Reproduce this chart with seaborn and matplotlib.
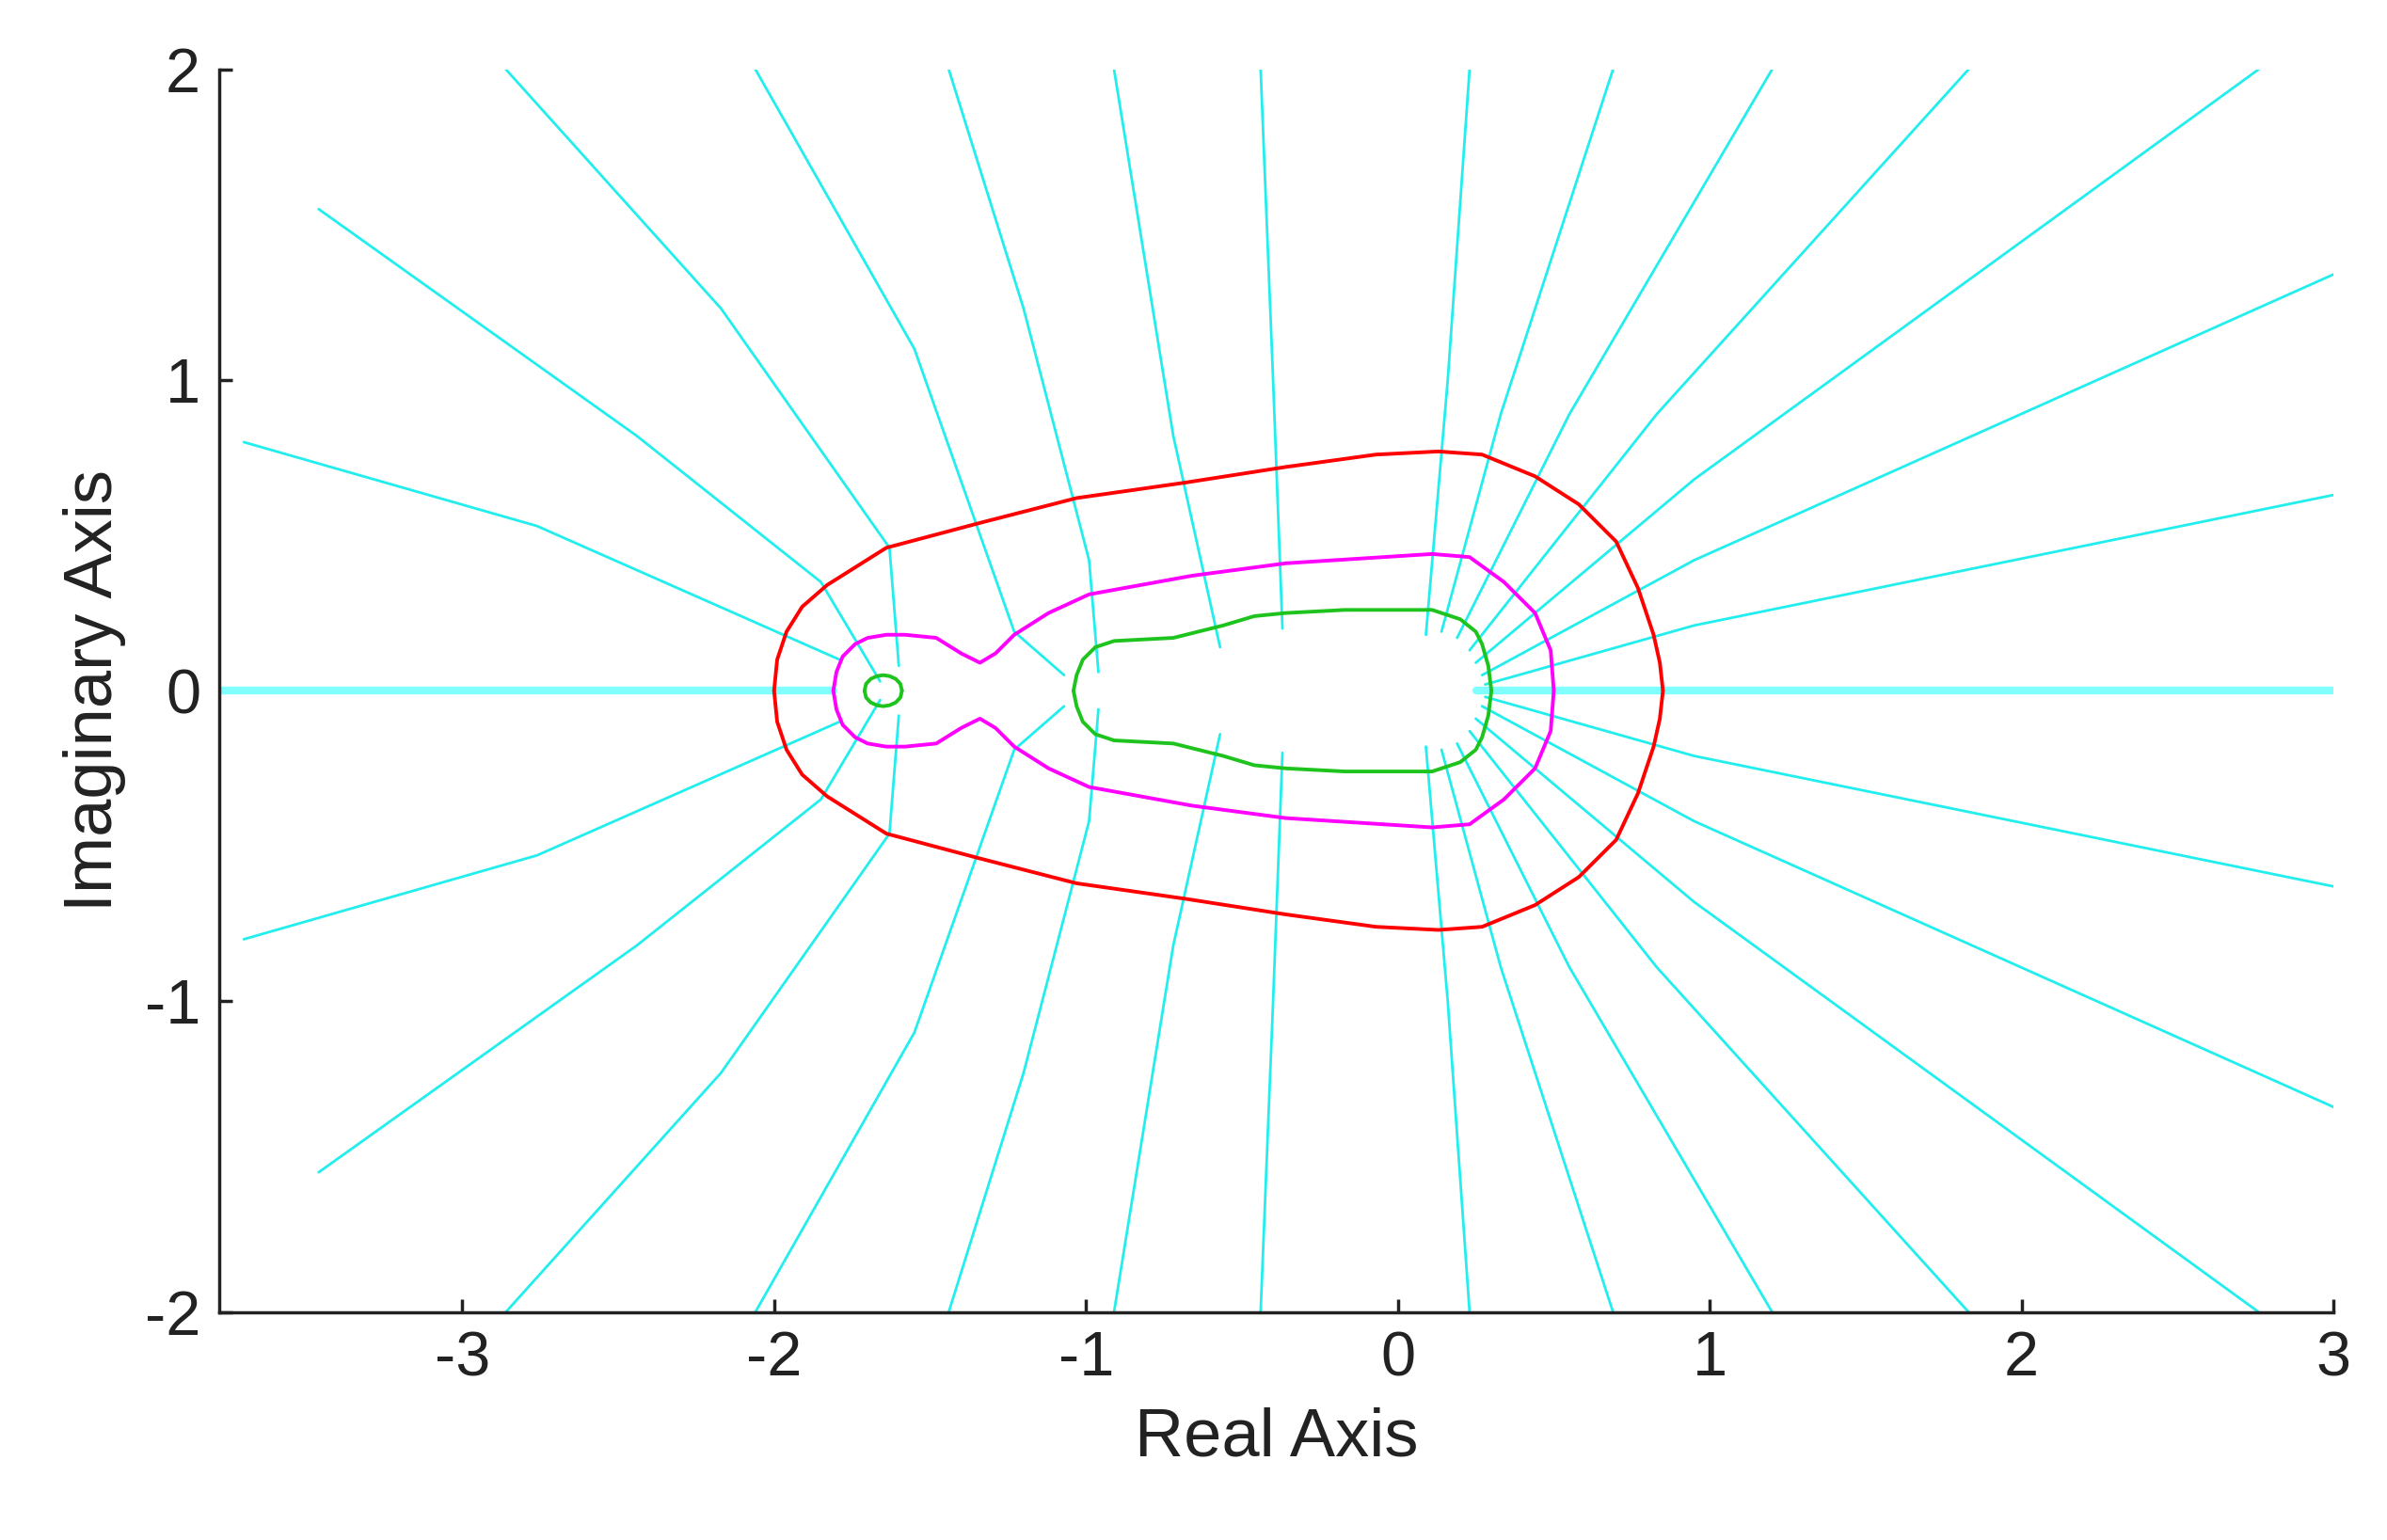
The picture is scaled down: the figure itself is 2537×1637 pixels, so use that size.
import numpy as np
import pandas as pd
import matplotlib
matplotlib.use("Agg")
import matplotlib.pyplot as plt
import seaborn as sns

# Upper halves of the level curves (mirrored about the real axis)
red_x = [-2.0, -1.99, -1.96, -1.91, -1.83, -1.64, -1.34, -1.03, -0.68, -0.36, -0.07, 0.13, 0.27, 0.44, 0.58, 0.70, 0.77, 0.82, 0.84, 0.85]
red_y = [0.0, 0.10, 0.19, 0.27, 0.34, 0.46, 0.54, 0.62, 0.67, 0.72, 0.76, 0.77, 0.76, 0.69, 0.60, 0.48, 0.33, 0.18, 0.09, 0.0]
mag_x = [-1.81, -1.80, -1.78, -1.74, -1.70, -1.64, -1.58, -1.48, -1.40, -1.34, -1.29, -1.23, -1.12, -0.99, -0.66, -0.36, 0.11, 0.23, 0.34, 0.44, 0.49, 0.50]
mag_y = [0.0, 0.06, 0.11, 0.15, 0.17, 0.18, 0.18, 0.17, 0.12, 0.09, 0.12, 0.18, 0.25, 0.31, 0.37, 0.41, 0.44, 0.43, 0.35, 0.25, 0.13, 0.0]
grn_x = [-1.04, -1.03, -1.01, -0.97, -0.91, -0.72, -0.56, -0.46, -0.36, -0.17, 0.11, 0.20, 0.25, 0.27, 0.29, 0.30]
grn_y = [0.0, 0.05, 0.10, 0.14, 0.16, 0.17, 0.21, 0.24, 0.25, 0.26, 0.26, 0.23, 0.19, 0.15, 0.08, 0.0]
small_x = [-1.71, -1.705, -1.69, -1.67, -1.65, -1.63, -1.61, -1.595, -1.59]
small_y = [0.0, 0.022, 0.038, 0.047, 0.05, 0.047, 0.038, 0.022, 0.0]

# Upper halves of the cyan (phase) lines, from the border inward
cyan_lines = [
    ([-3.70, -2.76, -1.79], [0.80, 0.53, 0.10]),
    ([-3.46, -2.44, -1.85, -1.66], [1.55, 0.82, 0.35, 0.03]),
    ([-2.86, -2.17, -1.63, -1.60], [2.0, 1.23, 0.46, 0.08]),
    ([-2.06, -1.55, -1.23, -1.07], [2.0, 1.10, 0.19, 0.05]),
    ([-1.44, -1.20, -0.99, -0.96], [2.0, 1.23, 0.42, 0.06]),
    ([-0.91, -0.72, -0.57], [2.0, 0.82, 0.14]),
    ([-0.44, -0.40, -0.37], [2.0, 1.0, 0.20]),
    ([0.23, 0.16, 0.09], [2.0, 1.0, 0.18]),
    ([0.69, 0.33, 0.14], [2.0, 0.89, 0.19]),
    ([1.20, 0.55, 0.19], [2.0, 0.89, 0.17]),
    ([1.83, 0.83, 0.23], [2.0, 0.89, 0.13]),
    ([2.76, 0.95, 0.25], [2.0, 0.68, 0.09]),
    ([3.0, 0.95, 0.27], [1.34, 0.42, 0.05]),
    ([3.0, 0.95, 0.28], [0.63, 0.21, 0.02]),
]
axis_segments = [([-3.78, -1.81], [0.0, 0.0]), ([0.25, 3.0], [0.0, 0.0])]

sns.set_theme(style="ticks")
plt.rcParams['font.family'] = ['Liberation Sans', 'DejaVu Sans']

fig = plt.figure(figsize=(25.37, 16.37), dpi=100)
ax = fig.add_axes([0.0917, 0.148, 0.8859, 0.807])

def draw(xs, ys, color, lw, mirror=True, zorder=2):
    sets = [(xs, ys), (xs, [-v for v in ys])] if mirror else [(xs, ys)]
    for xx, yy in sets:
        df = pd.DataFrame({"x": xx, "y": yy})
        sns.lineplot(data=df, x="x", y="y", sort=False, estimator=None,
                     color=color, lw=lw, ax=ax, zorder=zorder)

for xs, ys in axis_segments:
    draw(xs, ys, "#80ffff", 6, mirror=False, zorder=1)
for xs, ys in cyan_lines:
    draw(xs, ys, "#22eeee", 2.0)
draw(red_x, red_y, "#ff0000", 2.8, zorder=3)
draw(mag_x, mag_y, "#ff00ff", 2.8, zorder=3)
draw(grn_x, grn_y, "#1ec31e", 2.8, zorder=3)
draw(small_x, small_y, "#1ec31e", 2.8, zorder=3)

ax.set_xlim(-3.78, 3.0)
ax.set_ylim(-2, 2)
ax.set_xticks([-3, -2, -1, 0, 1, 2, 3])
ax.set_yticks([-2, -1, 0, 1, 2])
ax.set_xticklabels(["-3", "-2", "-1", "0", "1", "2", "3"])
ax.set_yticklabels(["-2", "-1", "0", "1", "2"])
ax.tick_params(direction="in", length=10, width=2.5, labelsize=48, pad=14, color="#222222", labelcolor="#222222")
for s in ("top", "right"):
    ax.spines[s].set_visible(False)
for s in ("left", "bottom"):
    ax.spines[s].set_linewidth(2.5)
    ax.spines[s].set_color("#222222")
ax.set_xlabel("Real Axis", fontsize=52, color="#222222", labelpad=14)
ax.set_ylabel("Imaginary Axis", fontsize=52, color="#222222", labelpad=14)
fig.savefig("out.png", dpi=100)
